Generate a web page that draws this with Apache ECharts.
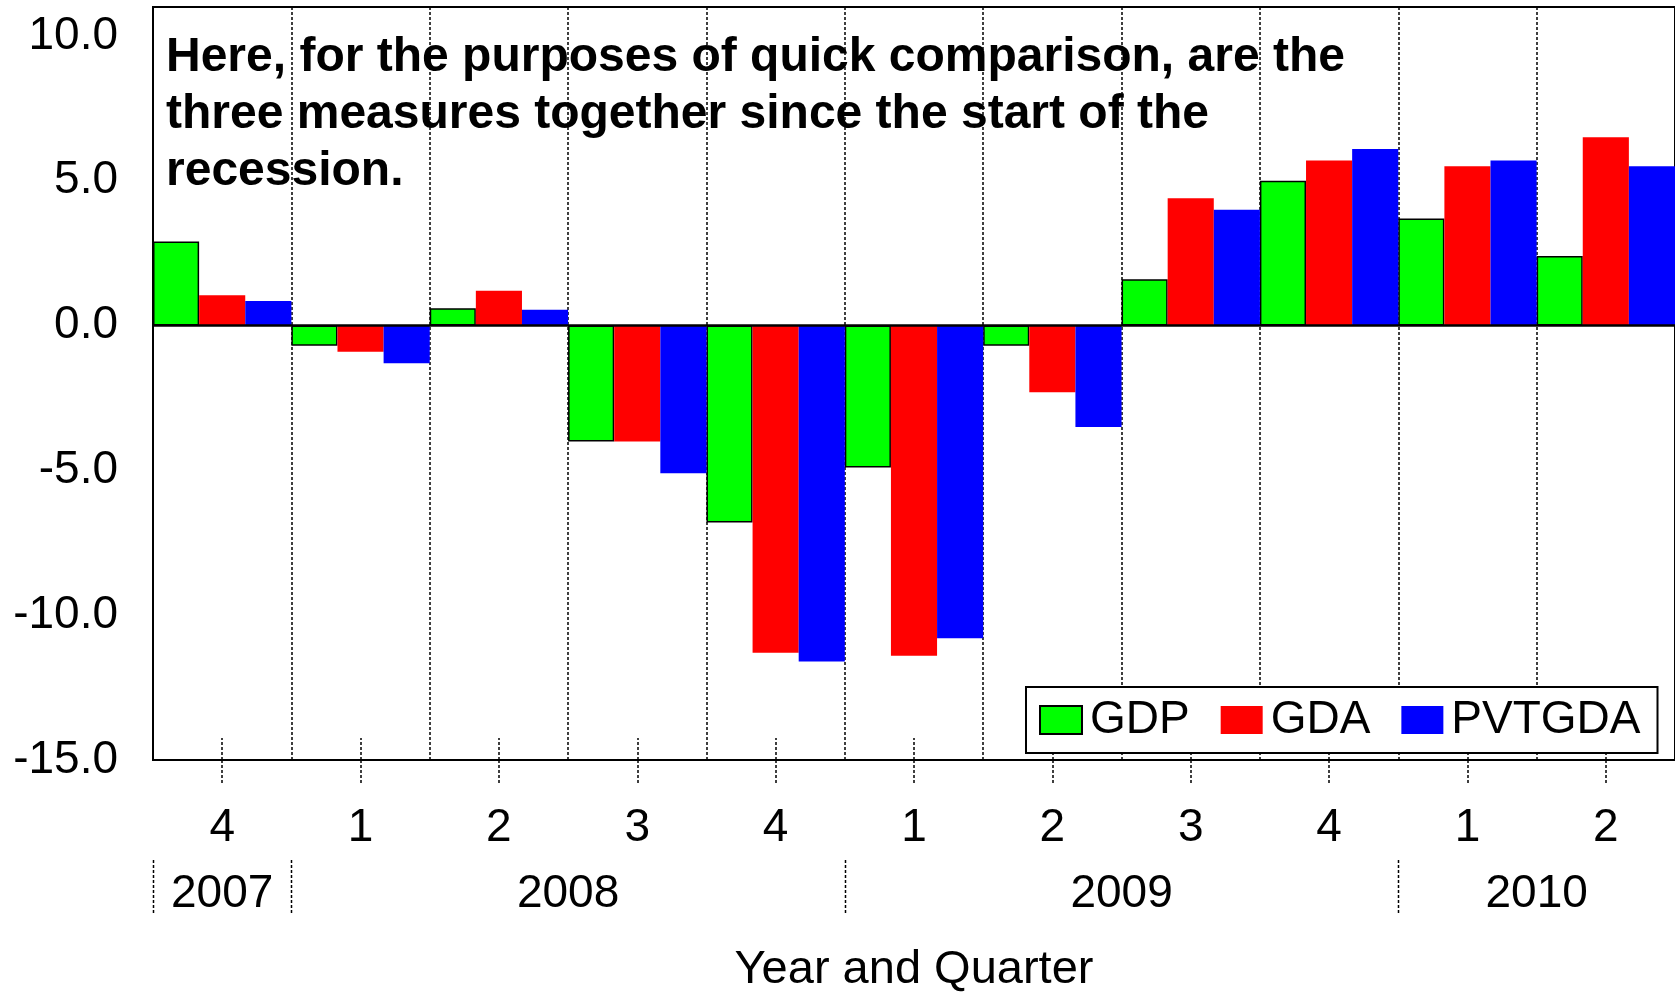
<!DOCTYPE html>
<html>
<head>
<meta charset="utf-8">
<script src="https://cdn.jsdelivr.net/npm/echarts@6/dist/echarts.min.js"></script>
<style>
html,body{margin:0;padding:0;background:#fff;}
#chart{width:1675px;height:999px;}
</style>
</head>
<body>
<div id="chart"></div>
<script>
const quarterLabels = ['4','1','2','3','4','1','2','3','4','1','2'];
const yearLabels = ['2007','2008','2009','2010'];
const yearQuarterCounts = [1,4,4,2];
const gdp = [2.9,-0.7,0.6,-4.0,-6.8,-4.9,-0.7,1.6,5.0,3.7,2.4];
const gda = [1.05,-0.9,1.2,-4.0,-11.3,-11.4,-2.3,4.4,5.7,5.5,6.5];
const pvtgda = [0.85,-1.3,0.55,-5.1,-11.6,-10.8,-3.5,4.0,6.1,5.7,5.5];
const yTicks = [-15,-10,-5,0,5,10];
const noteText = 'Here, for the purposes of quick comparison, are the\nthree measures together since the start of the\nrecession.';

const FONT = '"Liberation Sans", Arial, sans-serif';
const chart = echarts.init(document.getElementById('chart'), null, {renderer:'canvas'});

const option = {
  animation:false,
  backgroundColor:'#fff',
  textStyle:{fontFamily:FONT, color:'#000'},
  grid:{left:153, top:7, width:1527, height:763, show:true, borderColor:'#000', borderWidth:2, backgroundColor:'transparent'},
  legend:{
    left:1026, top:687, orient:'horizontal',
    itemWidth:42, itemHeight:28, itemGap:31,
    padding:[10,17,10,13],
    borderColor:'#000', borderWidth:2, backgroundColor:'#fff',
    textStyle:{fontSize:46, color:'#000', fontFamily:FONT, padding:[0,0,0,3]},
    icon:'rect',
    data:['GDP','GDA','PVTGDA']
  },
  xAxis:[
    {type:'category', data:quarterLabels, position:'bottom',
     axisLine:{show:true, onZero:false, lineStyle:{color:'#000', width:2}},
     axisTick:{show:true, alignWithLabel:true, length:25, inside:false, lineStyle:{color:'#000', width:1.5, type:[3,2]}},
     axisLabel:{fontSize:46, color:'#000', margin:45, fontFamily:FONT},
     splitLine:{show:true, lineStyle:{color:'#000', width:1.5, type:[3,2]}},
     name:'Year and Quarter', nameLocation:'middle', nameGap:187,
     nameTextStyle:{fontSize:47, color:'#000', fontFamily:FONT}},
    {type:'category', data:quarterLabels, position:'bottom',
     axisLine:{show:false, onZero:false},
     axisTick:{show:true, alignWithLabel:true, length:22, inside:true, lineStyle:{color:'#000', width:1.5, type:[3,2]}},
     axisLabel:{show:false}, splitLine:{show:false}},
    {type:'value', min:0, max:quarterLabels.length, show:false, position:'bottom', axisLine:{onZero:false}}
  ],
  yAxis:{type:'value', min:-15, max:11, interval:5,
    axisLine:{show:true, lineStyle:{color:'#000', width:2}},
    axisTick:{show:false},
    splitLine:{show:false},
    axisLabel:{fontSize:46, color:'#000', margin:35, fontFamily:FONT,
      formatter:function(v){ return yTicks.indexOf(v) >= 0 ? v.toFixed(1) : ''; }}
  },
  series:[
    {name:'GDP', type:'bar', data:gdp, barGap:'0%', barCategoryGap:'0%',
     itemStyle:{color:'#00ff00', borderColor:'#000', borderWidth:1.5},
     markLine:{silent:true, symbol:'none', label:{show:false},
       lineStyle:{color:'#000', width:2.5, type:'solid'}, data:[{yAxis:0}]}},
    {name:'GDA', type:'bar', data:gda, barGap:'0%', barCategoryGap:'0%',
     itemStyle:{color:'#ff0000'}},
    {name:'PVTGDA', type:'bar', data:pvtgda, barGap:'0%', barCategoryGap:'0%',
     itemStyle:{color:'#0000ff'}}
  ]
};
chart.setOption(option);

// Year row and annotation, positioned through the chart's own scales
const graphics = [];
const yLabelY = 894;
let start = 0;
const boundaries = [0];
for (let i = 0; i < yearLabels.length; i++) {
  const end = start + yearQuarterCounts[i];
  const x0 = chart.convertToPixel({xAxisIndex:2}, start);
  const x1 = chart.convertToPixel({xAxisIndex:2}, end);
  graphics.push({type:'text', x:(x0+x1)/2, y:yLabelY,
    style:{text:yearLabels[i], font:'46px ' + FONT, fill:'#000', align:'center', verticalAlign:'middle'}});
  boundaries.push(end);
  start = end;
}
boundaries.forEach(function(b){
  if (b >= quarterLabels.length) return;
  const x = Math.round(chart.convertToPixel({xAxisIndex:2}, b)) + 0.5;
  graphics.push({type:'line', shape:{x1:x, y1:860, x2:x, y2:915},
    style:{stroke:'#000', lineWidth:1.5, lineDash:[3,2]}});
});
graphics.push({type:'text', left:166, top:29, z:10,
  style:{text:noteText, font:'bold 48px ' + FONT, fill:'#000', lineHeight:57}});
chart.setOption({graphic:graphics});
</script>
</body>
</html>
